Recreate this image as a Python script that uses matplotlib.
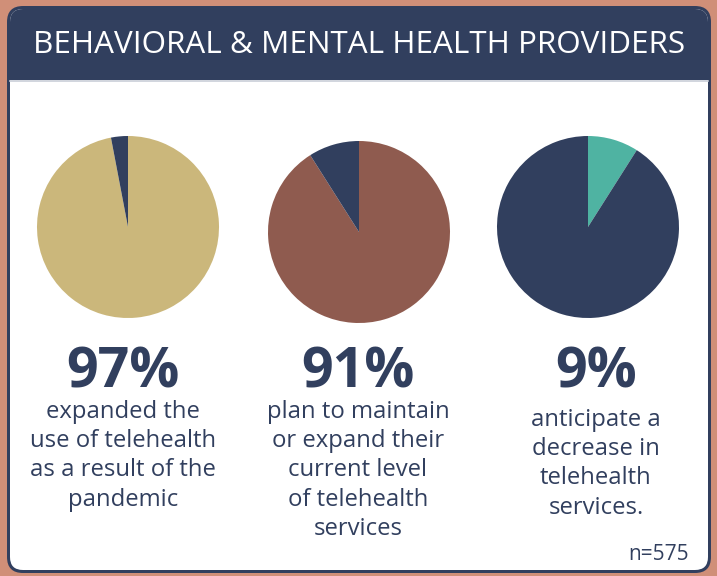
import matplotlib.pyplot as plt
from matplotlib.patches import FancyBboxPatch, Rectangle

# Chart data
title = 'BEHAVIORAL & MENTAL HEALTH PROVIDERS'
pct_labels = ['97%', '91%', '9%']
pie_values = [[97, 3], [91, 9], [9, 91]]
pie_colors = [['#cbb77b', '#313f5e'], ['#8f5b4f', '#313f5e'], ['#4fb3a2', '#313f5e']]
descriptions = [
    'expanded the\nuse of telehealth\nas a result of the\npandemic',
    'plan to maintain\nor expand their\ncurrent level\nof telehealth\nservices',
    'anticipate a\ndecrease in\ntelehealth\nservices.',
]
sample_note = 'n=575'

navy = '#313f5e'
W, H = 717, 576
plt.rcParams['font.family'] = ['Open Sans', 'DejaVu Sans']

fig = plt.figure(figsize=(W / 100, H / 100), dpi=100)
fig.patch.set_facecolor('#d08f78')
bg = fig.add_axes([0, 0, 1, 1])
bg.set_xlim(0, W)
bg.set_ylim(H, 0)
bg.axis('off')

# card with rounded corners
outer = FancyBboxPatch((7, 6), 704, 567, boxstyle='round,pad=0,rounding_size=16',
                       facecolor=navy, edgecolor='none')
inner = FancyBboxPatch((10, 9), 698, 561, boxstyle='round,pad=0,rounding_size=13',
                       facecolor='white', edgecolor='none')
bg.add_patch(outer)
bg.add_patch(inner)
header = Rectangle((0, 0), W, 80, facecolor=navy, edgecolor='none')
bg.add_patch(header)
header.set_clip_path(inner)
bg.plot([10, 708], [80.5, 80.5], color='#c9ced8', lw=1.2)

bg.text(359, 45, title, color='white', fontsize=22.6, ha='center', va='center')

# pies
centers = [(128, 227), (359, 232), (588, 227)]
r = 91
for (cx, cy), vals, cols in zip(centers, pie_values, pie_colors):
    ax = fig.add_axes([(cx - r) / W, 1 - (cy + r) / H, 2 * r / W, 2 * r / H])
    ax.pie(vals, colors=cols, startangle=90, counterclock=False,
           wedgeprops={'linewidth': 0})
    ax.set_xlim(-1, 1)
    ax.set_ylim(-1, 1)
    ax.set_aspect('auto')
    ax.axis('off')

# big numbers and descriptions
num_x = [123, 358, 596]
desc_y = [400, 400, 408]
for x, lab, desc, dy in zip(num_x, pct_labels, descriptions, desc_y):
    bg.text(x, 373, lab, color=navy, fontsize=40, fontweight='bold',
            ha='center', va='center')
    bg.text(x, dy, desc, color=navy, fontsize=17.2, ha='center', va='top',
            linespacing=1.29)

bg.text(689, 555, sample_note, color=navy, fontsize=15, ha='right', va='center')

fig.savefig('out.png', dpi=100, facecolor=fig.get_facecolor())
